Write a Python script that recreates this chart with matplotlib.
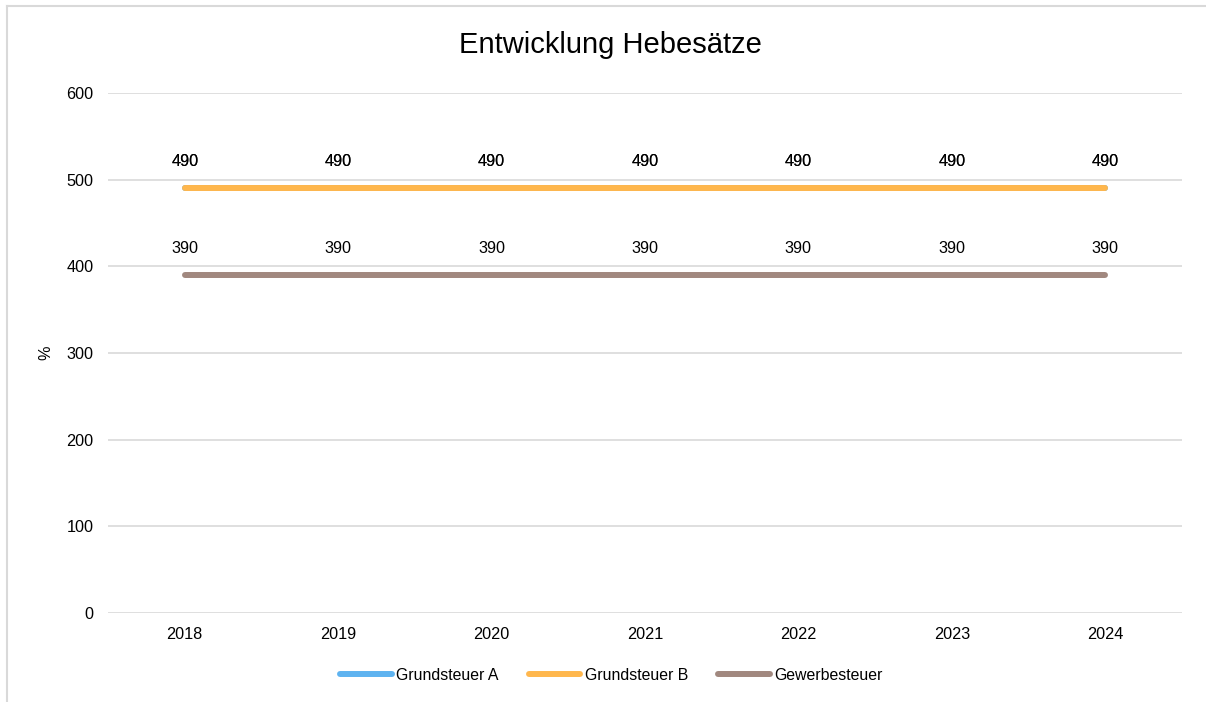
import matplotlib
matplotlib.use("Agg")
import matplotlib.pyplot as plt
from matplotlib.lines import Line2D

plt.rcParams['font.family'] = ['Liberation Sans', 'DejaVu Sans']

years = ["2018", "2019", "2020", "2021", "2022", "2023", "2024"]
grundsteuer_a = [490, 490, 490, 490, 490, 490, 490]
grundsteuer_b = [490, 490, 490, 490, 490, 490, 490]
gewerbesteuer = [390, 390, 390, 390, 390, 390, 390]

series = [
    ("Grundsteuer A", grundsteuer_a, "#5EB3F0"),
    ("Grundsteuer B", grundsteuer_b, "#FFB74D"),
    ("Gewerbesteuer", gewerbesteuer, "#A1887F"),
]

fig = plt.figure(figsize=(12.06, 7.02), dpi=100)
ax = fig.add_axes([108/1206, 1-613/702, (1182-108)/1206, (613-93)/702])

x = list(range(len(years)))
for name, vals, col in series:
    ax.plot(x, vals, color=col, lw=4.3, solid_capstyle="round", label=name)
    for xi, v in zip(x, vals):
        ax.annotate(str(v), (xi, v), xytext=(0, 19), textcoords="offset points",
                    ha="center", va="center", fontsize=11.7, color="#000000")

ax.set_xlim(-0.5, len(years) - 0.5)
ax.set_ylim(0, 600)
ax.set_yticks([0, 100, 200, 300, 400, 500, 600])
ax.set_xticks(x)
ax.set_xticklabels(years)
ax.tick_params(axis="both", length=0, labelsize=11.7, colors="#000000")
ax.tick_params(axis="y", pad=10.5)
ax.tick_params(axis="x", pad=10)
ax.grid(axis="y", color="#D9D9D9", lw=1.2)
ax.set_axisbelow(True)
for s in ax.spines.values():
    s.set_visible(False)
ax.set_ylabel("%", fontsize=11.7, labelpad=9)

fig.text(610/1206, 1-45/702, "Entwicklung Hebesätze", ha="center", va="center", fontsize=21)

leg = fig.legend(loc="center", bbox_to_anchor=(611.5/1206, 1-675/702), ncol=3, frameon=False,
                 fontsize=11.4, handlelength=3.25, handletextpad=0.3, columnspacing=1.9)
for h in leg.get_lines():
    h.set_solid_capstyle("round")

# chart area border (left and top only visible)
fig.add_artist(Line2D([6.5/1206, 6.5/1206], [0, 1-5.5/702], transform=fig.transFigure, color="#D9D9D9", lw=1.5))
fig.add_artist(Line2D([6.5/1206, 1], [1-5.5/702, 1-5.5/702], transform=fig.transFigure, color="#D9D9D9", lw=1.5))

fig.savefig("out.png", dpi=100)
